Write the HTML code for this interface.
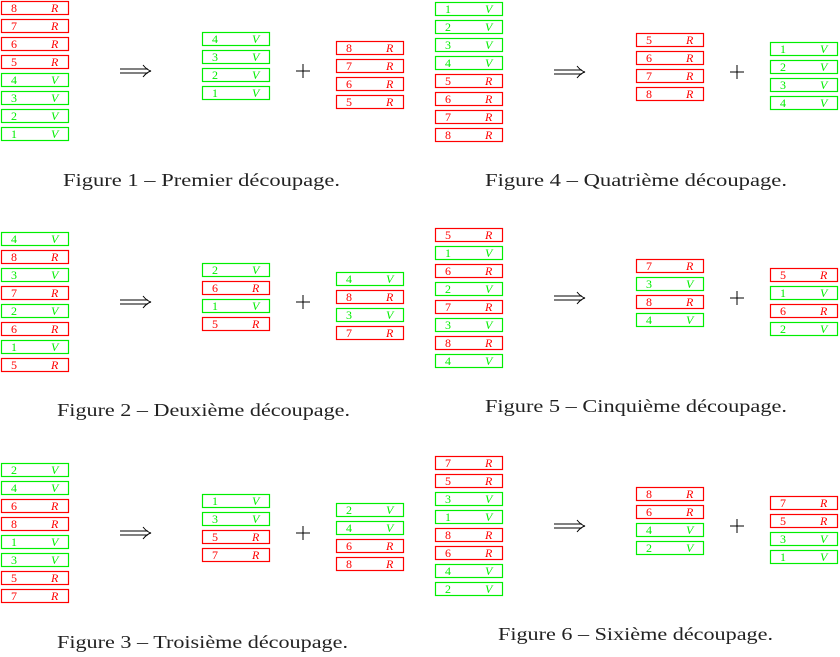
<!DOCTYPE html>
<html><head><meta charset="utf-8"><style>
html,body{margin:0;padding:0;background:#fff;width:840px;height:657px;overflow:hidden}
svg{display:block}
</style></head><body>
<svg id="fig" width="840" height="657" xmlns="http://www.w3.org/2000/svg"></svg>
<script>
// Each panel: initial stack, first result, second result (labels), caption
const stacks1 = [[8,7,6,5,4,3,2,1],[4,8,3,7,2,6,1,5],[2,4,6,8,1,3,5,7],[1,2,3,4,5,6,7,8],[5,1,6,2,7,3,8,4],[7,5,3,1,8,6,4,2]];
const stacksA = [[4,3,2,1],[2,6,1,5],[1,3,5,7],[5,6,7,8],[7,3,8,4],[8,6,4,2]];
const stacksB = [[8,7,6,5],[4,8,3,7],[2,4,6,8],[1,2,3,4],[5,1,6,2],[7,5,3,1]];
const captions = ["Figure 1 – Premier découpage.","Figure 2 – Deuxième découpage.","Figure 3 – Troisième découpage.","Figure 4 – Quatrième découpage.","Figure 5 – Cinquième découpage.","Figure 6 – Sixième découpage."];
// layout
const panelX = [0,0,0,434,434,434];
const panelY = [1,232,463,2,228,456];
const capX = [63,57,57,485,485,498];
const capW = [277,293,291,302,302,275];
const capY = [186,416,648,186,412,640];
const svg = document.getElementById('fig');
const NS = 'http://www.w3.org/2000/svg';
function mk(t,a){const e=document.createElementNS(NS,t);for(const k in a)e.setAttribute(k,a[k]);return e;}
function box(g,x,y,n){
  const red = n>4;
  const col = red ? '#ff0000' : '#00ee00';
  const b = mk('g',{});
  
  
  b.appendChild(mk('rect',{x:x+0.5,y:y+0.5,width:67,height:13,fill:'none',stroke:col,'stroke-width':1.2}));
  const t1 = mk('text',{x:x+10,y:y+11,fill:col,'font-family':'Liberation Serif, serif','font-size':12});
  t1.textContent = n; b.appendChild(t1);
  const t2 = mk('text',{x:x+50,y:y+11,fill:col,'font-family':'Liberation Serif, serif','font-size':12,'font-style':'italic'});
  t2.textContent = red?'R':'V'; b.appendChild(t2);
  g.appendChild(b);
}
for(let p=0;p<6;p++){
  const g = mk('g',{});
  
  
  svg.appendChild(g);
  const x0=panelX[p], y0=panelY[p];
  stacks1[p].forEach((n,i)=>box(g,x0+1,y0+i*18,n));
  stacksA[p].forEach((n,i)=>box(g,x0+202,y0+31+i*18,n));
  stacksB[p].forEach((n,i)=>box(g,x0+336,y0+40+i*18,n));
  const ay = y0+70;
  const ar = mk('g',{stroke:'#000','stroke-width':1,fill:'none'});
  
  
  ar.appendChild(mk('line',{x1:x0+120,y1:ay-2,x2:x0+148,y2:ay-2}));
  ar.appendChild(mk('line',{x1:x0+120,y1:ay+2,x2:x0+148,y2:ay+2}));
  ar.appendChild(mk('path',{d:`M${x0+143} ${ay-6} Q${x0+147} ${ay-1} ${x0+151} ${ay} Q${x0+147} ${ay+1} ${x0+143} ${ay+6}`}));
  g.appendChild(ar);
  const pl = mk('g',{stroke:'#000','stroke-width':1});
  
  
  pl.appendChild(mk('line',{x1:x0+296,y1:ay,x2:x0+310,y2:ay}));
  pl.appendChild(mk('line',{x1:x0+303,y1:ay-7,x2:x0+303,y2:ay+7}));
  g.appendChild(pl);
  const c = mk('text',{x:capX[p],y:capY[p],textLength:capW[p],lengthAdjust:'spacingAndGlyphs',fill:'#222','font-family':'Liberation Serif, serif','font-size':18});
  
  
  c.textContent = captions[p];
  g.appendChild(c);
}
</script>
</body></html>
